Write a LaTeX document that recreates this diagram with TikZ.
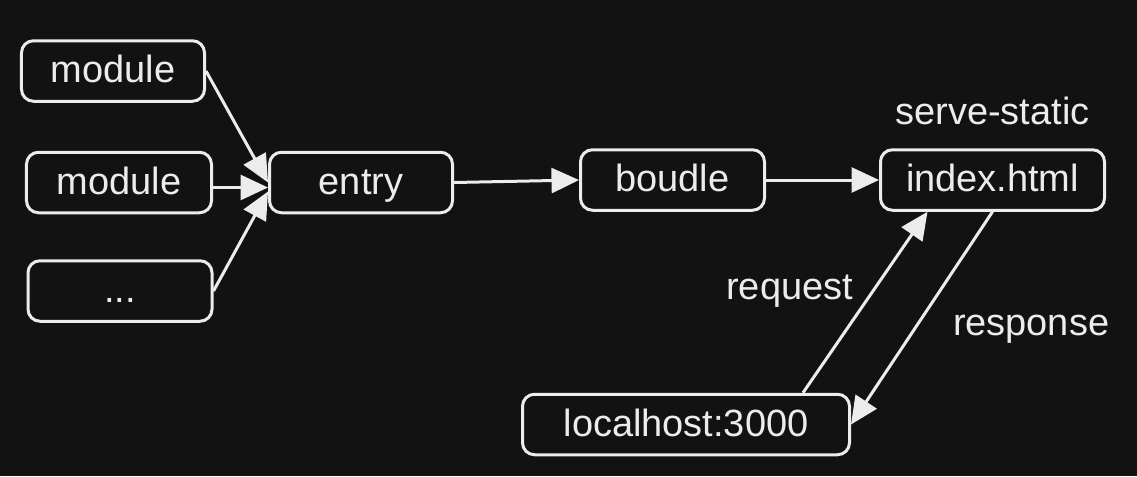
\documentclass[tikz,border=0pt]{standalone}
\usepackage{fontspec}
\setmainfont{Liberation Sans}
\usetikzlibrary{arrows.meta, positioning}
\definecolor{bgdark}{HTML}{121212}
\definecolor{chalk}{HTML}{ECECEC}

\begin{document}
\begin{tikzpicture}[
    box/.style={rectangle, draw=chalk, line width=0.06cm, rounded corners=0.24cm, minimum height=1.21cm, inner sep=0pt, text height=0.62cm, text depth=0.16cm, text=chalk, font=\fontsize{21.6}{26}\selectfont},
    tag/.style={text=chalk, font=\fontsize{21.6}{26}\selectfont},
    arrow/.style={-{Triangle[length=0.55cm, width=0.5cm]}, line width=0.06cm, draw=chalk}
]
% background
\fill[bgdark] (0,0) rectangle (22.74,-9.52);

% input modules
\node[box, minimum width=3.66cm] (module1) at (2.26,-1.42) {module};
\node[box, minimum width=3.70cm, below=0.96cm of module1, xshift=0.12cm] (module2) {module};
\node[box, minimum width=3.68cm, below=0.9cm of module2, xshift=0.02cm] (dots) {...};

% build chain
\node[box, minimum width=3.66cm, right=1.1cm of module2] (entry) {entry};
\node[box, minimum width=3.68cm, right=2.5cm of entry, yshift=0.05cm] (boudle) {boudle};
\node[box, minimum width=4.48cm, right=2.26cm of boudle, label={[tag, label distance=0.34cm]above:serve-static}] (index) {index.html};

% dev server
\node[box, minimum width=6.54cm] (localhost) at (13.72,-8.49) {localhost:3000};

% arrows
\draw[arrow] (module1.east) -- (entry.west);
\draw[arrow] ([yshift=-0.1cm]module2.east) -- ([yshift=-0.1cm]entry.west);
\draw[arrow] (dots.east) -- ([yshift=-0.18cm]entry.west);
\draw[arrow] (entry.east) -- (boudle.west);
\draw[arrow] (boudle.east) -- (index.west);
\draw[arrow] ([xshift=-0.96cm]localhost.north east) -- node[tag, pos=0.56, left=0.25cm] {request} ([xshift=-1.3cm]index.south);
\draw[arrow] (index.south) -- node[tag, pos=0.55, right=0.62cm] {response} (localhost.east);

\end{tikzpicture}
\end{document}
